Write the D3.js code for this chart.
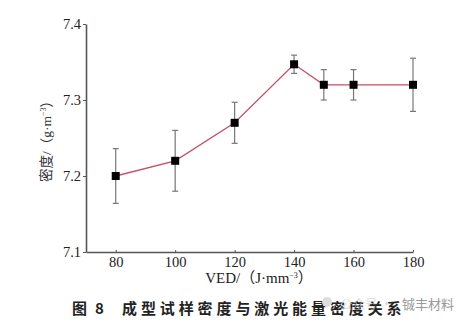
<!DOCTYPE html>
<html><head><meta charset="utf-8">
<script src="https://cdn.jsdelivr.net/npm/d3@7"></script>
<style>body{margin:0;background:#fff;}svg{display:block;}</style>
</head><body>
<script>
const ved = [80, 100, 120, 140, 150, 160, 180];
const density = [7.200, 7.220, 7.270, 7.347, 7.320, 7.320, 7.320];
const errors = [0.036, 0.040, 0.027, 0.012, 0.020, 0.020, 0.035];
const xTicks = [80, 100, 120, 140, 160, 180];
const yTicks = [7.1, 7.2, 7.3, 7.4];
const xLabel = "VED/（J·mm";
const yLabel = "密度/（g·m";
const figNo = ["图", "8"];
const caption = "成型试样密度与激光能量密度关系";
const wmFaint = "公众号 ·";
const wmName = "铖丰材料";

const W = 472, H = 322;
const svg = d3.select("body").append("svg").attr("width", W).attr("height", H);
const x = d3.scaleLinear().domain([70, 180]).range([86, 413]);
const y = d3.scaleLinear().domain([7.1, 7.4]).range([252, 24]);
const serif = "'Liberation Serif','DejaVu Serif','Noto Sans CJK SC',serif";
const cjk = "'Noto Sans CJK SC',sans-serif";

// axes
const xAxis = svg.append("g").attr("transform", "translate(0,252)")
  .call(d3.axisBottom(x).tickValues(xTicks).tickSize(-2).tickSizeOuter(0).tickPadding(5));
const yAxis = svg.append("g").attr("transform", "translate(86,0)")
  .call(d3.axisLeft(y).tickValues(yTicks).tickFormat(d3.format(".1f")).tickSize(3).tickSizeOuter(0).tickPadding(2));
[xAxis, yAxis].forEach(a => {
  a.select(".domain").attr("stroke", "#555").attr("stroke-width", 1.6);
  a.selectAll(".tick line").attr("stroke", "#555");
  a.selectAll("text").attr("fill", "#222").attr("font-family", serif).attr("font-size", 14.5);
});
xAxis.selectAll("text").attr("dy", "0.71em");
yAxis.selectAll("text").attr("dy", "0.32em");

// line
svg.append("path").datum(ved.map((v, i) => [v, density[i]]))
  .attr("fill", "none").attr("stroke", "#c25068").attr("stroke-width", 1.3)
  .attr("d", d3.line().x(d => x(d[0])).y(d => y(d[1])));

// error bars
const eb = svg.append("g").attr("stroke", "#777").attr("stroke-width", 1.2);
ved.forEach((v, i) => {
  const cx = x(v), t = y(density[i] + errors[i]), b = y(density[i] - errors[i]);
  eb.append("line").attr("x1", cx).attr("x2", cx).attr("y1", t).attr("y2", b);
  eb.append("line").attr("x1", cx - 3).attr("x2", cx + 3).attr("y1", t).attr("y2", t);
  eb.append("line").attr("x1", cx - 3).attr("x2", cx + 3).attr("y1", b).attr("y2", b);
});

// markers
svg.append("g").selectAll("rect").data(ved).join("rect")
  .attr("x", (d) => x(d) - 4).attr("y", (d, i) => y(density[i]) - 4)
  .attr("width", 8).attr("height", 8).attr("fill", "#000");

// axis labels
const xl = svg.append("text").attr("x", 259).attr("y", 283).attr("text-anchor", "middle")
  .attr("font-family", serif).attr("font-size", 15).attr("fill", "#222");
xl.append("tspan").text(xLabel);
xl.append("tspan").attr("dy", -5).attr("font-size", 8).text("−3");
xl.append("tspan").attr("dy", 5).text("）");

const yl = svg.append("text").attr("transform", "translate(51,138) rotate(-90)")
  .attr("text-anchor", "middle").attr("font-family", serif).attr("font-size", 13.5).attr("fill", "#333");
yl.append("tspan").text(yLabel);
yl.append("tspan").attr("dy", -5).attr("font-size", 8).text("−3");
yl.append("tspan").attr("dy", 5).text("）");

// caption
const capG = svg.append("g").attr("font-family", cjk).attr("font-weight", "bold")
  .attr("font-size", 15).attr("fill", "#222");
capG.append("text").attr("x", 72).attr("y", 314).text(figNo[0]);
capG.append("text").attr("x", 95).attr("y", 314).text(figNo[1]);
capG.append("text").attr("x", 122).attr("y", 314).attr("letter-spacing", 3.9).text(caption);

// watermark
svg.append("circle").attr("cx", 327).attr("cy", 302).attr("r", 5).attr("fill", "#ddd");
svg.append("text").attr("x", 340).attr("y", 309).attr("font-family", cjk).attr("font-size", 12.5)
  .attr("fill", "#ccc").attr("opacity", 0.7).text(wmFaint);
svg.append("text").attr("x", 402).attr("y", 309).attr("font-family", cjk).attr("font-size", 13)
  .attr("fill", "#999").text(wmName);
</script>
</body></html>
